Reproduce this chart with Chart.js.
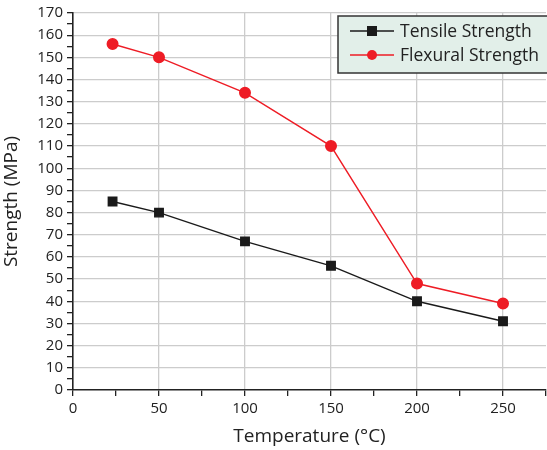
<!DOCTYPE html>
<html>
<head>
    <meta charset="UTF-8">
    <title>Strength vs Temperature</title>
    <script src="https://cdn.jsdelivr.net/npm/chart.js@4.4.1/dist/chart.umd.min.js"></script>
    <style type="text/css">
        body { margin: 0; background: #fff; }
        #wrap { width: 547px; height: 450px; }
    </style>
</head>
<body>
<div id="wrap"><canvas id="strengthChart"></canvas></div>

<script>
    // data
    const temperatures = [23, 50, 100, 150, 200, 250];
    const tensile = [85, 80, 67, 56, 40, 31];
    const flexural = [156, 150, 134, 110, 48, 39];
    const seriesNames = ['Tensile Strength', 'Flexural Strength'];

    const FONT = '"Open Sans", sans-serif';

    function toPoints(vals) {
        return temperatures.map((t, i) => ({ x: t, y: vals[i] }));
    }

    // legend box drawn inside the plot, top right
    const boxLegend = {
        id: 'boxLegend',
        afterDraw(chart) {
            const ctx = chart.ctx;
            const area = chart.chartArea;
            const left = area.right - 208, top = area.top + 3;
            const w = 214, h = 57;
            ctx.save();
            ctx.fillStyle = '#e2efe9';
            ctx.fillRect(left, top, w, h);
            ctx.strokeStyle = '#333';
            ctx.lineWidth = 1.5;
            ctx.strokeRect(left, top, w, h);
            ctx.font = '17.5px ' + FONT;
            ctx.textBaseline = 'middle';
            chart.data.datasets.forEach((ds, i) => {
                const y = top + 15 + i * 24;
                ctx.strokeStyle = ds.borderColor;
                ctx.lineWidth = 1.5;
                ctx.beginPath();
                ctx.moveTo(left + 12, y);
                ctx.lineTo(left + 56, y);
                ctx.stroke();
                ctx.fillStyle = ds.backgroundColor;
                if (ds.pointStyle === 'rect') {
                    ctx.fillRect(left + 29, y - 5, 10, 10);
                } else {
                    ctx.beginPath();
                    ctx.arc(left + 34, y, 5, 0, Math.PI * 2);
                    ctx.fill();
                }
                ctx.fillStyle = '#222';
                ctx.fillText(ds.label, left + 62, y + 1);
            });
            ctx.restore();
        }
    };

    const ctx = document.getElementById('strengthChart').getContext('2d');
    new Chart(ctx, {
        type: 'line',
        data: {
            datasets: [{
                label: seriesNames[0],
                data: toPoints(tensile),
                borderColor: '#1a1a1a',
                backgroundColor: '#1a1a1a',
                borderWidth: 1.4,
                pointStyle: 'rect',
                pointRadius: 6,
                pointHoverRadius: 6
            }, {
                label: seriesNames[1],
                data: toPoints(flexural),
                borderColor: '#ee1c25',
                backgroundColor: '#ee1c25',
                borderWidth: 1.4,
                pointStyle: 'circle',
                pointRadius: 5.3,
                pointHoverRadius: 5.3
            }]
        },
        options: {
            responsive: true,
            maintainAspectRatio: false,
            animation: false,
            layout: { autoPadding: false, padding: { top: 4, right: 1, left: 0, bottom: 2 } },
            plugins: {
                legend: { display: false },
                tooltip: { enabled: false }
            },
            scales: {
                x: {
                    type: 'linear',
                    min: 0,
                    max: 275,
                    afterFit(scale) {
                        scale.height = 58;
                        scale.paddingRight = 0;
                    },
                    ticks: {
                        stepSize: 25,
                        autoSkip: false,
                        maxRotation: 0,
                        padding: 4,
                        color: '#222',
                        font: { family: FONT, size: 15 },
                        callback: (v) => v % 50 === 0 ? v : ''
                    },
                    grid: {
                        color: (c) => (c.tick && c.tick.value % 50 === 0 && c.tick.value !== 0) ? '#cccccc' : 'rgba(0,0,0,0)',
                        lineWidth: 1.3,
                        tickColor: '#222',
                        tickLength: 6,
                        tickWidth: 1.3
                    },
                    border: { display: true, color: '#222', width: 1.6 },
                    title: {
                        display: true,
                        text: 'Temperature (°C)',
                        color: '#222',
                        font: { family: FONT, size: 19 },
                        padding: { top: 4, bottom: 0 }
                    }
                },
                y: {
                    min: 0,
                    max: 170,
                    afterFit(scale) { scale.width = 73; },
                    ticks: {
                        stepSize: 5,
                        autoSkip: false,
                        padding: 4,
                        color: '#222',
                        font: { family: FONT, size: 15 },
                        callback: (v) => v % 10 === 0 ? v : ''
                    },
                    grid: {
                        color: (c) => (c.tick && c.tick.value % 10 === 0 && c.tick.value !== 0) ? '#cccccc' : 'rgba(0,0,0,0)',
                        lineWidth: 1.3,
                        tickColor: '#222',
                        tickLength: 6,
                        tickWidth: 1.3
                    },
                    border: { display: true, color: '#222', width: 1.6 },
                    title: {
                        display: true,
                        text: 'Strength (MPa)',
                        color: '#222',
                        font: { family: FONT, size: 19 },
                        padding: { top: 0, bottom: 2 }
                    }
                }
            }
        },
        plugins: [boxLegend]
    });
</script>
</body>
</html>
